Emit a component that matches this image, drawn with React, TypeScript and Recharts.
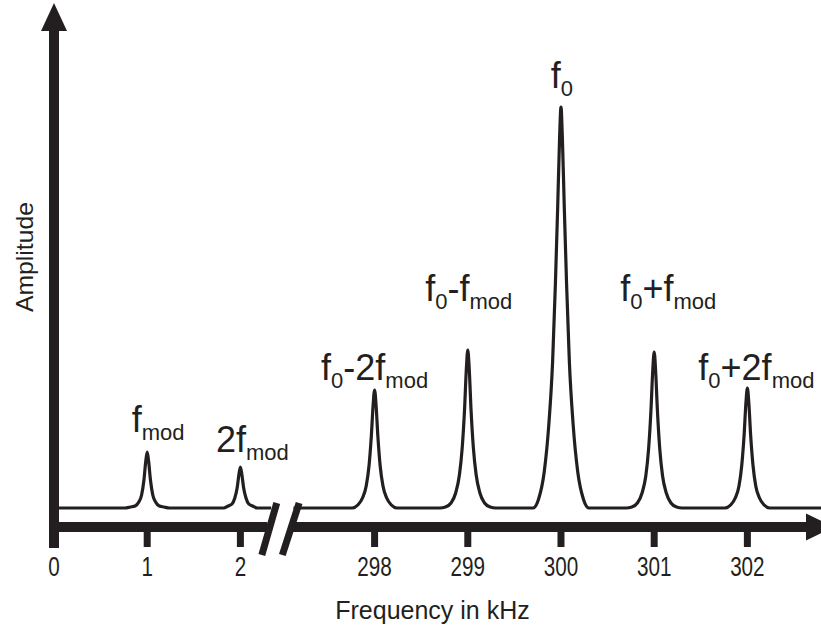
import {
  Line,
  LineChart,
  ReferenceDot,
  ReferenceLine,
  XAxis,
  YAxis,
} from "recharts";

const INK = "#231f20";
const SANS = "'Liberation Sans', Arial, sans-serif";

// frequencies in kHz
const TICK_FREQS = [0, 1, 2, 298, 299, 300, 301, 302];
const PEAK_FREQS = [1, 2, 298, 299, 300, 301, 302];

// distance from a peak centre (kHz), one side only
const PEAK_OFFSETS = [0, 0.015, 0.035, 0.06, 0.09, 0.13, 0.18, 0.24, 0.3];
// amplitude at each offset (arbitrary units)
const AMP_FMOD = [56, 47, 28, 13, 6, 2, 1, 0, 0];
const AMP_2FMOD = [41, 34, 20, 10, 4, 2, 0, 0, 0];
const AMP_298 = [118, 104, 72, 42, 22, 10, 3, 0, 0];
const AMP_299 = [158, 140, 98, 60, 33, 15, 5, 1, 0];
const AMP_300 = [401, 370, 302, 224, 146, 84, 36, 9, 0];
const AMP_301 = [156, 138, 97, 59, 32, 15, 5, 1, 0];
const AMP_302 = [120, 106, 73, 43, 22, 10, 3, 0, 0];
const PEAK_AMPS = [AMP_FMOD, AMP_2FMOD, AMP_298, AMP_299, AMP_300, AMP_301, AMP_302];

// "_" marks a subscript part
const PEAK_LABELS = [
  ["f", "_mod"],
  ["2f", "_mod"],
  ["f", "_0", "-2f", "_mod"],
  ["f", "_0", "-f", "_mod"],
  ["f", "_0"],
  ["f", "_0", "+f", "_mod"],
  ["f", "_0", "+2f", "_mod"],
];
// where each label sits: horizontal nudge (px) and baseline height (amplitude units)
const LABEL_LAYOUT = [
  { dx: 11, y: 76 },
  { dx: 12, y: 56 },
  { dx: 0, y: 128 },
  { dx: 1, y: 207 },
  { dx: 1, y: 420 },
  { dx: 14, y: 207 },
  { dx: 9, y: 128 },
];

// axis break: everything above 100 kHz is shifted left
const BREAK_SHIFT = 294.56;
const toPos = (f: number) => (f > 100 ? f - BREAK_SHIFT : f);
const LEFT_END = 2.33;
const RIGHT_START = 2.57;
const X_MAX = 8.23;
const Y_MIN = -19;
const Y_MAX = 478;

function peakPoints(i: number) {
  const c = toPos(PEAK_FREQS[i]);
  const amps = PEAK_AMPS[i];
  const pts: { x: number; y: number | null }[] = [];
  for (let k = PEAK_OFFSETS.length - 1; k > 0; k--) pts.push({ x: c - PEAK_OFFSETS[k], y: amps[k] });
  pts.push({ x: c, y: amps[0] });
  for (let k = 1; k < PEAK_OFFSETS.length; k++) pts.push({ x: c + PEAK_OFFSETS[k], y: amps[k] });
  return pts;
}

const data: { x: number; y: number | null }[] = [{ x: 0, y: 0 }];
PEAK_FREQS.forEach((f, i) => {
  if (f > 100 && data[data.length - 1].x < LEFT_END) {
    data.push({ x: LEFT_END, y: 0 }, { x: (LEFT_END + RIGHT_START) / 2, y: null }, { x: RIGHT_START, y: 0 });
  }
  data.push(...peakPoints(i));
});
data.push({ x: X_MAX, y: 0 });

const tickPositions = TICK_FREQS.map(toPos);

function tickLabel(v: number) {
  let best = 0;
  tickPositions.forEach((p, k) => {
    if (Math.abs(p - v) < Math.abs(tickPositions[best] - v)) best = k;
  });
  return String(TICK_FREQS[best]);
}

// condensed-looking digits like the original
function FreqTick(props: any) {
  const { x, y, payload } = props;
  const s = tickLabel(payload.value);
  return (
    <text
      x={x}
      y={y + 18}
      textAnchor="middle"
      fill={INK}
      fontFamily={SANS}
      fontSize={28}
      textLength={s.length * 11.5}
      lengthAdjust="spacingAndGlyphs"
    >
      {s}
    </text>
  );
}

function PeakLabel({ cx, cy, parts, dx }: { cx: number; cy: number; parts: string[]; dx: number }) {
  let shift = 0;
  return (
    <text x={cx + dx} y={cy} textAnchor="middle" fill={INK} fontFamily={SANS} fontSize={36}>
      {parts.map((p, k) => {
        const sub = p.startsWith("_");
        const want = sub ? 8 : 0;
        const dy = want - shift;
        shift = want;
        return (
          <tspan key={k} dy={dy} fontSize={sub ? 22 : 36}>
            {sub ? p.slice(1) : p}
          </tspan>
        );
      })}
    </text>
  );
}

export default function App() {
  return (
    <div style={{ position: "absolute", left: 0, top: 0, background: "#fff" }}>
      <LineChart width={821} height={631} data={data} margin={{ top: 30, right: 0, bottom: 8, left: 0 }}>
        <XAxis
          dataKey="x"
          type="number"
          domain={[0, X_MAX]}
          allowDataOverflow
          ticks={tickPositions}
          interval={0}
          axisLine={false}
          tickLine={{ stroke: INK, strokeWidth: 7 }}
          tickSize={20}
          tickMargin={11}
          height={96}
          tick={<FreqTick />}
          label={{
            value: "Frequency in kHz",
            position: "insideBottom",
            offset: 4,
            dx: -5,
            fill: INK,
            fontSize: 25,
            fontFamily: SANS,
          }}
        />
        <YAxis
          type="number"
          domain={[Y_MIN, Y_MAX]}
          allowDataOverflow
          width={54}
          axisLine={false}
          tickLine={false}
          tick={false}
          label={{
            content: () => {
              const x = 33;
              const y = 257;
              return (
                <text
                  x={x}
                  y={y}
                  transform={`rotate(-90 ${x} ${y})`}
                  textAnchor="middle"
                  fill={INK}
                  fontFamily={SANS}
                  fontSize={24}
                  textLength={110}
                  lengthAdjust="spacingAndGlyphs"
                >
                  Amplitude
                </text>
              );
            },
          }}
        />
        <Line
          dataKey="y"
          type="monotone"
          stroke={INK}
          strokeWidth={3.2}
          dot={false}
          activeDot={false}
          connectNulls={false}
          isAnimationActive={false}
        />
        {/* axes drawn by hand so they can carry arrows and the break */}
        <ReferenceLine segment={[{ x: 0, y: -40 }, { x: 0, y: Y_MAX }]} stroke={INK} strokeWidth={10} ifOverflow="visible" />
        <ReferenceLine segment={[{ x: 0, y: Y_MIN }, { x: 2.29, y: Y_MIN }]} stroke={INK} strokeWidth={10} ifOverflow="visible" />
        <ReferenceLine segment={[{ x: 2.55, y: Y_MIN }, { x: 8.08, y: Y_MIN }]} stroke={INK} strokeWidth={10} ifOverflow="visible" />
        <ReferenceLine segment={[{ x: 2.23, y: -47 }, { x: 2.39, y: 5 }]} stroke={INK} strokeWidth={7} ifOverflow="visible" />
        <ReferenceLine segment={[{ x: 2.45, y: -47 }, { x: 2.63, y: 5 }]} stroke={INK} strokeWidth={7} ifOverflow="visible" />
        <ReferenceDot
          x={0}
          y={Y_MAX}
          r={1}
          ifOverflow="visible"
          shape={(p: any) => (
            <polygon points={`${p.cx - 13},${p.cy + 1} ${p.cx + 13},${p.cy + 1} ${p.cx},${p.cy - 27}`} fill={INK} />
          )}
        />
        <ReferenceDot
          x={8.08}
          y={Y_MIN}
          r={1}
          ifOverflow="visible"
          shape={(p: any) => (
            <polygon points={`${p.cx - 1},${p.cy - 13.5} ${p.cx - 1},${p.cy + 13.5} ${p.cx + 27},${p.cy}`} fill={INK} />
          )}
        />
        {PEAK_FREQS.map((f, i) => (
          <ReferenceDot
            key={f}
            x={toPos(f)}
            y={LABEL_LAYOUT[i].y}
            r={1}
            ifOverflow="visible"
            shape={(p: any) => <PeakLabel cx={p.cx} cy={p.cy} parts={PEAK_LABELS[i]} dx={LABEL_LAYOUT[i].dx} />}
          />
        ))}
      </LineChart>
    </div>
  );
}
